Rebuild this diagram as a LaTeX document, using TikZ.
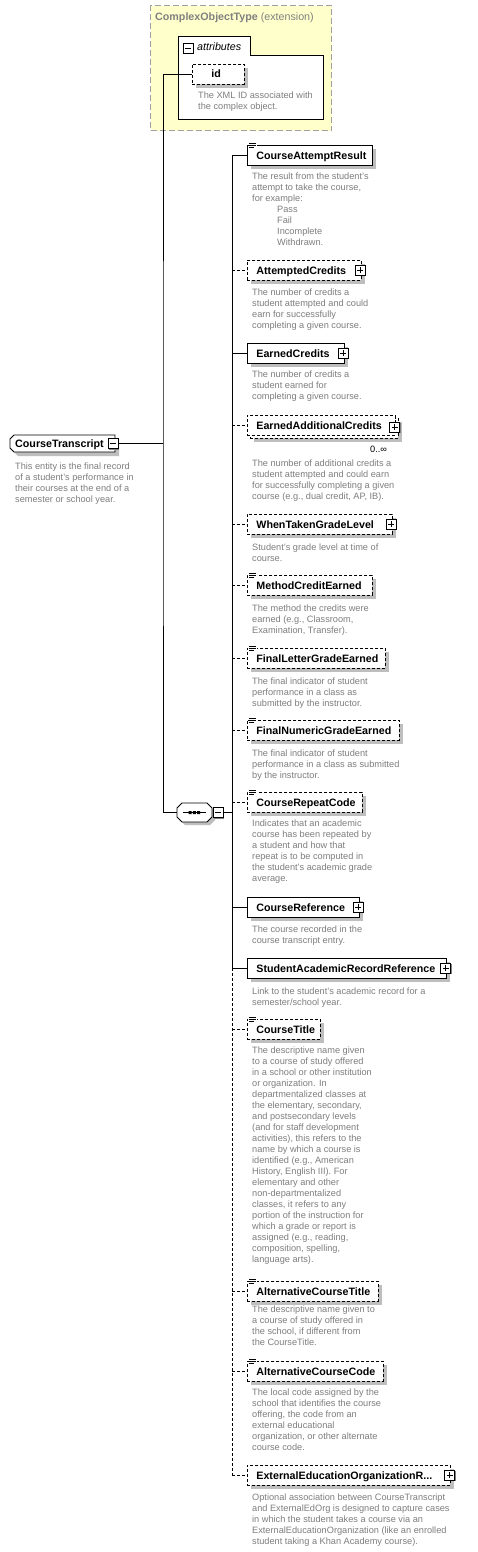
\documentclass[tikz,border=0pt]{standalone}
\usepackage{fontspec}
\setmainfont{Liberation Sans}
\usetikzlibrary{shadows}
\definecolor{descgray}{HTML}{7E7E7E}
\definecolor{shadowgray}{HTML}{BEBEBE}
\definecolor{cotfill}{HTML}{FFFFCC}
\definecolor{cotline}{HTML}{A0A0A0}
\definecolor{titlegray}{HTML}{808080}
\newcommand\namefont{\fontsize{10.7}{13}\selectfont\bfseries}
\newcommand\descfont{\fontsize{9.2}{11}\selectfont}
\newcommand\elicon[1]{%
  \fill[white] (248.6,#1-12.5) rectangle (256.5,#1-6);
  \draw[line width=0.7pt] (249,#1-11.3) -- (255.5,#1-11.3) (249,#1-9.3) -- (255.5,#1-9.3) (249,#1-7.3) -- (254,#1-7.3);}
\begin{document}
\begin{tikzpicture}[x=1pt,y=-1pt,
  shd/.style={drop shadow={shadow xshift=4pt,shadow yshift=-4pt,fill=shadowgray,opacity=1}},
  ebase/.style={draw=black,line width=0.8pt,fill=white,anchor=west,inner xsep=0pt,inner ysep=0pt,minimum height=20pt,text height=8pt,text depth=0pt,align=left,font=\namefont,execute at begin node={\hspace*{9pt}}},
  ebox/.style={ebase,shd},
  opt/.style={dash pattern=on 3pt off 2pt},
  desc/.style={anchor=north west,inner sep=0pt,align=left,font=\descfont,text=descgray,execute at begin node={\strut}},
  sqbox/.style={draw=black,line width=0.8pt,fill=white,minimum size=10pt,inner sep=0pt,drop shadow={shadow xshift=1pt,shadow yshift=-1pt,fill=gray,opacity=1}},
  plusbox/.style={sqbox,path picture={\draw[line width=0.8pt] ([xshift=2pt]path picture bounding box.west) -- ([xshift=-2pt]path picture bounding box.east) ([yshift=-2pt]path picture bounding box.north) -- ([yshift=2pt]path picture bounding box.south);}},
  minusbox/.style={sqbox,path picture={\draw[line width=0.8pt] ([xshift=2pt]path picture bounding box.west) -- ([xshift=-2pt]path picture bounding box.east);}},
  conn/.style={line width=0.8pt},
]
\useasboundingbox (0,0) rectangle (477,1552);
\fill[white] (0,0) rectangle (477,1552);

% ComplexObjectType extension
\node[draw=cotline,line width=1.2pt,dash pattern=on 6pt off 3pt,fill=cotfill,minimum width=181pt,minimum height=125pt,anchor=north west,inner sep=0pt] (cot) at (150,5) {};
\node[anchor=west,inner sep=0pt,text=titlegray,font=\fontsize{10.7}{13}\selectfont] (cottitle) at (155,18) {\textbf{ComplexObjectType} (extension)};
\draw[line width=0.8pt,fill=white] (178,36) -- (250,36) -- (250,55) -- (323,55) -- (323,119) -- (178,119) -- cycle;
\node[minusbox] (attrminus) at (188,48) {};
\node[anchor=west,inner sep=0pt,font=\fontsize{10.7}{13}\selectfont\itshape] (attrlabel) at (197,47) {attributes};
\node[ebox,opt,text width=52pt,execute at begin node={\hspace*{10pt}}] (id) at (192,74) {id};
\node[desc] (iddesc) at (198,92) {The XML ID associated with\\the complex object.};

% CourseTranscript
\fill[shadowgray] (18,439) -- (119,439) -- (119,456) -- (18,456) -- (14,452) -- (14,443) -- cycle;
\draw[line width=0.8pt,fill=white] (14,435) -- (115,435) -- (115,452) -- (14,452) -- (10,448) -- (10,439) -- cycle;
\node[anchor=west,inner sep=0pt,font=\namefont,text height=8pt,text depth=0pt] (ct) at (15,443.5) {CourseTranscript};
\node[minusbox] (ctminus) at (113,443.5) {};
\node[desc] (ctdesc) at (15,463) {This entity is the final record\\of a student's performance in\\their courses at the end of a\\semester or school year.};

% sequence
\fill[shadowgray] (185,806) -- (210,806) -- (215,811) -- (215,820) -- (210,825) -- (185,825) -- (180,820) -- (180,811) -- cycle;
\draw[line width=0.8pt,fill=white] (182,803) -- (207,803) -- (212,808) -- (212,817) -- (207,822) -- (182,822) -- (177,817) -- (177,808) -- cycle;
\node[inner sep=0pt,minimum width=35pt,minimum height=19pt] (seq) at (194.5,812.5) {};
\draw[line width=0.8pt] (183,812.5) -- (206,812.5);
\fill (188.5,811) rectangle (191.5,814) (192.8,811) rectangle (195.8,814) (197.1,811) rectangle (200.1,814);
\node[minusbox] (seqminus) at (218,812.5) {};

\coordinate (busA) at (163,443.5);
\coordinate (busB) at (232,812.5);
\draw[conn] (ctminus.east) -- (busA);
\draw[conn] (id.west) -| (busA) |- (seq.west);
\draw[conn] (seqminus.east) -- (busB);

% elements
\node[ebox,text width=125pt] (car) at (247,155) {CourseAttemptResult};
\elicon{155}
\node[desc] (d1) at (252,172.5) {The result from the student's\\attempt to take the course,\\for example:\\\hspace*{25pt}Pass\\\hspace*{25pt}Fail\\\hspace*{25pt}Incomplete\\\hspace*{25pt}Withdrawn.};

\node[ebox,opt,text width=114pt] (ac) at (247,270) {AttemptedCredits};
\node[plusbox] (acp) at ([xshift=-1.5pt]ac.east) {};
\node[desc] (d2) at (252,288.5) {The number of credits a\\student attempted and could\\earn for successfully\\completing a given course.};

\node[ebox,text width=97pt] (ec) at (247,353) {EarnedCredits};
\node[plusbox] (ecp) at ([xshift=-1.5pt]ec.east) {};
\node[desc] (d3) at (252,370.5) {The number of credits a\\student earned for\\completing a given course.};

\node[ebox,opt,text width=148pt] (eacback) at (250,428) {};
\node[ebase,opt,text width=148pt] (eac) at (247,425) {EarnedAdditionalCredits};
\node[plusbox] (eacp) at (394.5,427) {};
\node[anchor=west,inner sep=0pt,font=\descfont] (eacmult) at (370,449) {0..∞};
\node[desc] (d4) at (252,459.5) {The number of additional credits a\\student attempted and could earn\\for successfully completing a given\\course (e.g., dual credit, AP, IB).};

\node[ebox,opt,text width=145pt] (wtgl) at (247,524) {WhenTakenGradeLevel};
\node[plusbox] (wtglp) at ([xshift=-1.5pt]wtgl.east) {};
\node[desc] (d5) at (252,543.5) {Student's grade level at time of\\course.};

\node[ebox,opt,text width=125pt] (mce) at (247,585) {MethodCreditEarned};
\elicon{585}
\node[desc] (d6) at (252,604.5) {The method the credits were\\earned (e.g., Classroom,\\Examination, Transfer).};

\node[ebox,opt,text width=138pt] (flge) at (247,658) {FinalLetterGradeEarned};
\elicon{658}
\node[desc] (d7) at (252,677.5) {The final indicator of student\\performance in a class as\\submitted by the instructor.};

\node[ebox,opt,text width=152pt] (fnge) at (247,730) {FinalNumericGradeEarned};
\elicon{730}
\node[desc] (d8) at (252,749.5) {The final indicator of student\\performance in a class as submitted\\by the instructor.};

\node[ebox,opt,text width=115pt] (crc) at (247,802) {CourseRepeatCode};
\elicon{802}
\node[desc] (d9) at (252,819.5) {Indicates that an academic\\course has been repeated by\\a student and how that\\repeat is to be computed in\\the student's academic grade\\average.};

\node[ebox,text width=112pt] (cr) at (247,907) {CourseReference};
\node[plusbox] (crp) at ([xshift=-1.5pt]cr.east) {};
\node[desc] (d10) at (252,925.5) {The course recorded in the\\course transcript entry.};

\node[ebox,text width=199pt] (sarr) at (247,968) {StudentAcademicRecordReference};
\node[plusbox] (sarrp) at ([xshift=-1pt]sarr.east) {};
\node[desc] (d11) at (252,987.5) {Link to the student's academic record for a\\semester/school year.};

\node[ebox,opt,text width=73pt] (ctitle) at (247,1029) {CourseTitle};
\elicon{1029}
\node[desc] (d12) at (252,1047) {The descriptive name given\\to a course of study offered\\in a school or other institution\\or organization. In\\departmentalized classes at\\the elementary, secondary,\\and postsecondary levels\\(and for staff development\\activities), this refers to the\\name by which a course is\\identified (e.g., American\\History, English III). For\\elementary and other\\non-departmentalized\\classes, it refers to any\\portion of the instruction for\\which a grade or report is\\assigned (e.g., reading,\\composition, spelling,\\language arts).};

\node[ebox,opt,text width=131pt] (act) at (247,1291) {AlternativeCourseTitle};
\elicon{1291}
\node[desc] (d13) at (252,1306) {The descriptive name given to\\a course of study offered in\\the school, if different from\\the CourseTitle.};

\node[ebox,opt,text width=136pt] (acc) at (247,1371) {AlternativeCourseCode};
\elicon{1371}
\node[desc] (d14) at (252,1389) {The local code assigned by the\\school that identifies the course\\offering, the code from an\\external educational\\organization, or other alternate\\course code.};

\node[ebox,opt,text width=203pt] (eeor) at (247,1475) {ExternalEducationOrganizationR...};
\node[plusbox] (eeorp) at ([xshift=-1pt]eeor.east) {};
\node[desc] (d15) at (252,1494) {Optional association between CourseTranscript\\and ExternalEdOrg is designed to capture cases\\in which the student takes a course via an\\ExternalEducationOrganization (like an enrolled\\student taking a Khan Academy course).};

% sequence bus
\draw[conn] (busB |- car.west) -- (busB |- sarr.west);
\draw[conn,opt] (busB |- sarr.west) -- (busB |- eeor.west);
\foreach \n in {car,ec,cr,sarr} \draw[conn] (busB |- \n.west) -- (\n.west);
\foreach \n in {ac,eac,wtgl,mce,flge,fnge,crc,ctitle,act,acc,eeor} \draw[conn,opt] (busB |- \n.west) -- (\n.west);
\end{tikzpicture}
\end{document}
